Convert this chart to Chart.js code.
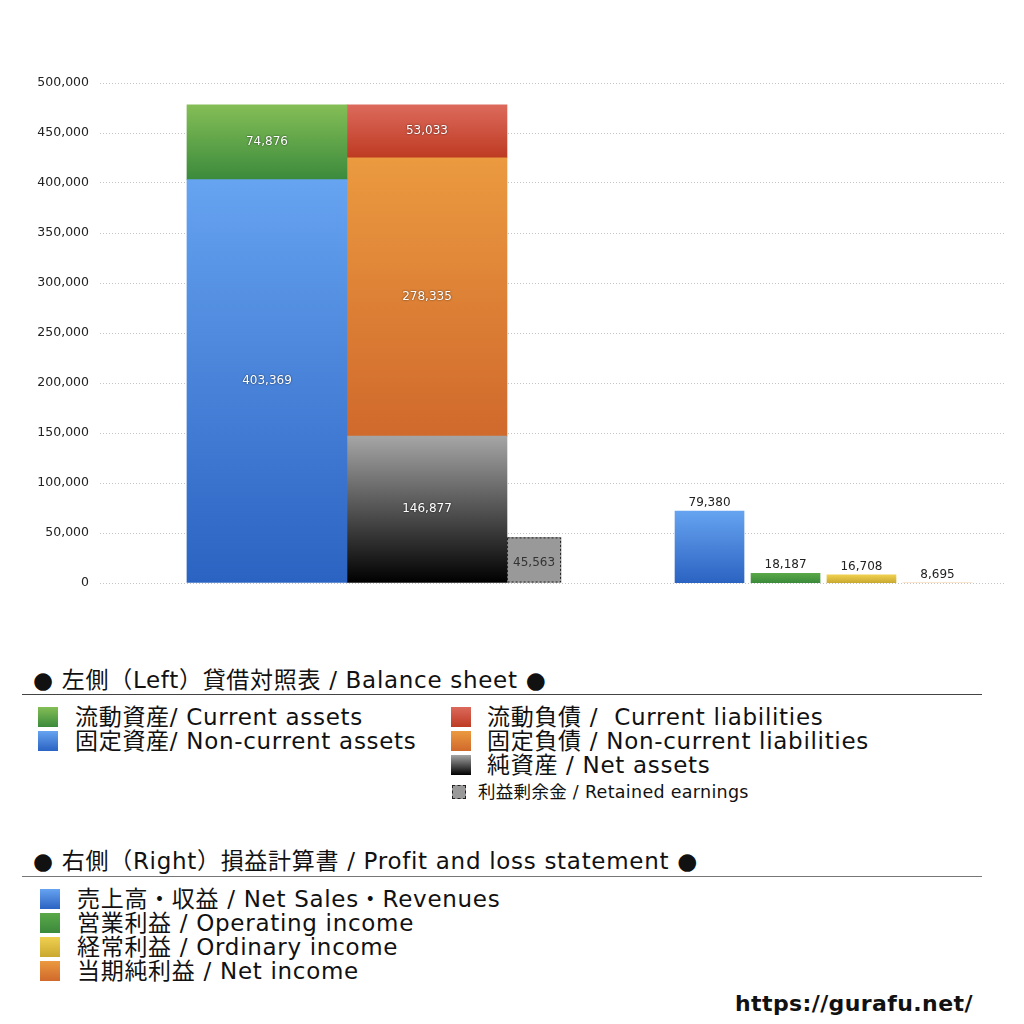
<!DOCTYPE html>
<html lang="ja">
<head>
<meta charset="utf-8">
<script src="https://cdn.jsdelivr.net/npm/chart.js@4.4.1/dist/chart.umd.min.js"></script>
<style>
  body { margin: 0; background: #fff; width: 1024px; height: 1024px; overflow: hidden;
         font-family: "DejaVu Sans", "Noto Sans CJK JP", sans-serif; color: #111; position: relative; }
  #wrap { position: absolute; left: 0; top: 0; width: 1024px; height: 620px; }
  .t { position: absolute; white-space: pre; font-size: 23px; line-height: 24px; letter-spacing: 0.7px; }
  .sq { position: absolute; width: 20px; height: 20px; }
  .rule { position: absolute; left: 22px; width: 960px; height: 0; border-top: 1px solid #444; }
</style>
</head>
<body>
<div id="wrap"><canvas id="bsChart" width="1024" height="620"></canvas></div>

<!-- legend: balance sheet -->
<div class="t" style="left:33px; top:668px;">● 左側（Left）貸借対照表 / Balance sheet ●</div>
<div class="rule" style="top:694px;"></div>
<div class="sq" style="left:38px; top:707px; background:linear-gradient(#84be56,#3b8a3c);"></div>
<div class="t" style="left:75px; top:705px;">流動資産/ Current assets</div>
<div class="sq" style="left:38px; top:731px; background:linear-gradient(#66a3f0,#2b63c2);"></div>
<div class="t" style="left:75px; top:729px;">固定資産/ Non-current assets</div>
<div class="sq" style="left:451px; top:707px; background:linear-gradient(#dc6a5c,#be3a22);"></div>
<div class="t" style="left:487px; top:705px;">流動負債 /  Current liabilities</div>
<div class="sq" style="left:451px; top:731px; background:linear-gradient(#eb9a40,#d0692c);"></div>
<div class="t" style="left:487px; top:729px;">固定負債 / Non-current liabilities</div>
<div class="sq" style="left:451px; top:755px; background:linear-gradient(#a5a5a5,#000);"></div>
<div class="t" style="left:487px; top:753px;">純資産 / Net assets</div>
<div class="sq" style="left:452px; top:785px; width:12px; height:12px; background:#999; border:1px dashed #222;"></div>
<div class="t" style="left:478px; top:782px; font-size:17.5px; line-height:20px; letter-spacing:0.3px;">利益剰余金 / Retained earnings</div>

<!-- legend: profit and loss -->
<div class="t" style="left:33px; top:849px;">● 右側（Right）損益計算書 / Profit and loss statement ●</div>
<div class="rule" style="top:876px; border-top-color:#777;"></div>
<div class="sq" style="left:40px; top:889px; background:linear-gradient(#66a3f0,#2b63c2);"></div>
<div class="t" style="left:77px; top:887px;">売上高・収益 / Net Sales・Revenues</div>
<div class="sq" style="left:40px; top:913px; background:linear-gradient(#5aa848,#3b8a3c);"></div>
<div class="t" style="left:77px; top:911px;">営業利益 / Operating income</div>
<div class="sq" style="left:40px; top:937px; background:linear-gradient(#f0d050,#c9a830);"></div>
<div class="t" style="left:77px; top:935px;">経常利益 / Ordinary income</div>
<div class="sq" style="left:40px; top:961px; background:linear-gradient(#eb9a40,#d0692c);"></div>
<div class="t" style="left:77px; top:959px;">当期純利益 / Net income</div>

<div class="t" style="left:735px; top:992px; font-weight:bold; font-size:22px; letter-spacing:0.4px;">https://gurafu.net/</div>

<script>
// Balance sheet (left side)
const assetCategories = ['固定資産 / Non-current assets', '流動資産 / Current assets'];
const assetValues = [403369, 74876];
const liabilityCategories = ['純資産 / Net assets', '固定負債 / Non-current liabilities', '流動負債 / Current liabilities'];
const liabilityValues = [146877, 278335, 53033];
const retainedCategories = ['利益剰余金 / Retained earnings'];
const retainedValues = [45563];

// Profit and loss statement (right side)
const plCategories = ['売上高・収益 / Net Sales・Revenues', '営業利益 / Operating income', '経常利益 / Ordinary income', '当期純利益 / Net income'];
const plValues = [79380, 18187, 16708, 8695];

// Y axis ticks
const yTicks = [0, 50000, 100000, 150000, 200000, 250000, 300000, 350000, 400000, 450000, 500000];

// layout: bar slots as % of the plot width, and bar widths in px
const slot = { assets: 18.45, liabilities: 36.13, retained: 47.96, pl: [67.35, 75.75, 84.14, 92.54] };
const wide = 160, narrow = 54, plWidth = 69;

const assetColors = [['#66a3f0', '#2b63c2'], ['#84be56', '#3b8a3c']];
const liabilityColors = [['#a5a5a5', '#000000'], ['#eb9a40', '#d0692c'], ['#dc6a5c', '#be3a22']];
const plColors = [['#66a3f0', '#2b63c2'], ['#5aa848', '#3b8a3c'], ['#f0d050', '#c9a830'], ['#eb9a40', '#d0692c']];

// vertical gradient spanning one bar segment [lo, hi] on the given axis
function grad(colors, lo, hi, axis) {
  return (ctx) => {
    const chart = ctx.chart;
    if (!chart.chartArea) return colors[0];
    const y = chart.scales[axis];
    const top = y.getPixelForValue(hi);
    let bottom = y.getPixelForValue(lo);
    if (bottom - top < 1) bottom = top + 1;
    const g = chart.ctx.createLinearGradient(0, top, 0, bottom);
    g.addColorStop(0, colors[0]);
    g.addColorStop(1, colors[1]);
    return g;
  };
}

function stackSets(cats, vals, colors, x, stack) {
  let base = 0;
  return cats.map((c, i) => {
    const lo = base;
    base += vals[i];
    return {
      label: c,
      data: [{ x: x, y: vals[i] }],
      stack: stack,
      yAxisID: 'y',
      barThickness: wide,
      backgroundColor: grad(colors[i], lo, base, 'y'),
      labelPos: 'inside',
    };
  });
}

const plMin = Math.min(...plValues);

const datasets = [
  ...stackSets(assetCategories, assetValues, assetColors, slot.assets, 'assets'),
  ...stackSets(liabilityCategories, liabilityValues, liabilityColors, slot.liabilities, 'liabilities'),
  {
    label: retainedCategories[0],
    data: [{ x: slot.retained, y: retainedValues[0] }],
    stack: 'retained',
    yAxisID: 'y',
    barThickness: narrow,
    backgroundColor: '#999999',
    labelPos: 'retained',
  },
  ...plCategories.map((c, i) => ({
    label: c,
    data: [{ x: slot.pl[i], y: plValues[i] }],
    stack: 'pl' + i,
    yAxisID: 'y2',
    barThickness: plWidth,
    backgroundColor: grad(plColors[i], plMin, plValues[i], 'y2'),
    labelPos: 'above',
  })),
];

// value labels + dashed outline for retained earnings
const valueLabels = {
  id: 'valueLabels',
  afterDatasetsDraw(chart) {
    const ctx = chart.ctx;
    ctx.save();
    ctx.font = '12px "DejaVu Sans", sans-serif';
    ctx.textAlign = 'center';
    ctx.textBaseline = 'middle';
    chart.data.datasets.forEach((ds, di) => {
      const meta = chart.getDatasetMeta(di);
      meta.data.forEach((el, i) => {
        const txt = ds.data[i].y.toLocaleString('en-US');
        if (ds.labelPos === 'inside') {
          ctx.save();
          ctx.fillStyle = '#ffffff';
          ctx.shadowColor = 'rgba(0,0,0,0.7)';
          ctx.shadowBlur = 2;
          ctx.fillText(txt, el.x, (el.y + el.base) / 2);
          ctx.restore();
        } else if (ds.labelPos === 'retained') {
          ctx.save();
          ctx.strokeStyle = '#222';
          ctx.lineWidth = 1;
          ctx.setLineDash([2, 2]);
          ctx.strokeRect(el.x - el.width / 2 + 0.5, el.y + 0.5, el.width - 1, el.base - el.y - 1);
          ctx.restore();
          ctx.fillStyle = '#333';
          ctx.fillText(txt, el.x, (el.y + el.base) / 2 + 3);
        } else {
          ctx.fillStyle = '#222';
          ctx.fillText(txt, el.x, el.y - 8);
        }
      });
    });
    ctx.restore();
  },
};

const ctxBs = document.getElementById('bsChart').getContext('2d');
const bsChart = new Chart(ctxBs, {
  type: 'bar',
  data: { datasets: datasets },
  plugins: [valueLabels],
  options: {
    responsive: false,
    animation: false,
    devicePixelRatio: 1,
    layout: { padding: { top: 83, bottom: 37, right: 19, left: 0 } },
    datasets: { bar: { grouped: false, borderWidth: 0 } },
    plugins: {
      legend: { display: false },
      tooltip: { enabled: false },
    },
    scales: {
      x: { type: 'linear', min: 0, max: 100, offset: false, display: false },
      y: {
        stacked: true,
        min: 0,
        max: 500000,
        afterBuildTicks: (s) => { s.ticks = yTicks.map((v) => ({ value: v })); },
        afterFit: (s) => { s.width = 100; },
        border: { display: false, dash: [1, 2] },
        grid: { color: '#c4c4c4', drawTicks: false },
        ticks: {
          padding: 11,
          color: '#222',
          font: { family: '"DejaVu Sans", sans-serif', size: 12.5 },
          callback: (v) => v.toLocaleString('en-US'),
        },
      },
      // right-side bars use their own hidden scale, starting at the smallest value
      y2: {
        type: 'linear',
        display: false,
        min: plMin,
        max: yTicks[yTicks.length - 1],
      },
    },
  },
});
</script>
</body>
</html>
